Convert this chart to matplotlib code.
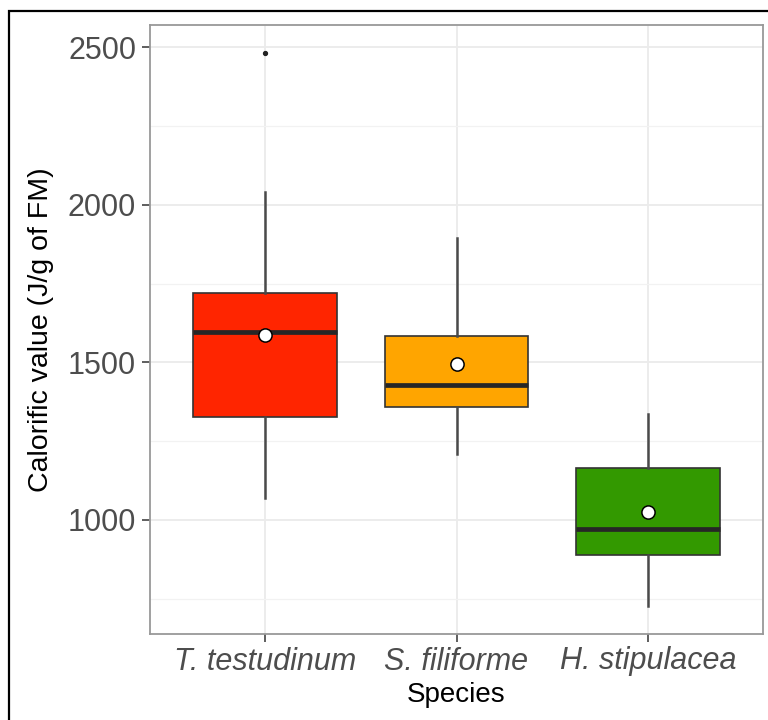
import matplotlib
matplotlib.use("Agg")
import matplotlib.pyplot as plt
from matplotlib.patches import Rectangle

# valores
especies = ["T. testudinum", "S. filiforme", "H. stipulacea"]
q1 = [1328, 1357, 889]
mediana = [1595, 1427, 971]
q3 = [1720, 1583, 1165]
whis_min = [1070, 1208, 727]
whis_max = [2041, 1895, 1337]
media = [1586, 1494, 1025]
outliers = [[2481], [], []]
cores = ["#FF2500", "#FFA500", "#339900"]

plt.rcParams["font.family"] = ["Liberation Sans", "DejaVu Sans"]

stats = []
for i, nome in enumerate(especies):
    stats.append({
        "label": nome,
        "q1": q1[i],
        "med": mediana[i],
        "q3": q3[i],
        "whislo": whis_min[i],
        "whishi": whis_max[i],
        "fliers": outliers[i],
    })

fig = plt.figure(figsize=(7.68, 7.2), dpi=100)
ax = fig.add_axes([150 / 768, 1 - 634 / 720, 613 / 768, 609 / 720])

pos = [1, 2, 3]
bp = ax.bxp(stats, positions=pos, widths=0.75, patch_artist=True, showcaps=False,
            boxprops=dict(edgecolor="#333333", linewidth=1.2),
            medianprops=dict(color="#262626", linewidth=3.4, solid_capstyle="butt"),
            whiskerprops=dict(color="#4a4a4a", linewidth=1.8),
            flierprops=dict(marker="o", markerfacecolor="#222222", markeredgecolor="#222222",
                            markersize=2.8), zorder=3)
for caixa, cor in zip(bp["boxes"], cores):
    caixa.set_facecolor(cor)

ax.plot(pos, media, linestyle="none", marker="o", markersize=9.5,
        markerfacecolor="white", markeredgecolor="black", markeredgewidth=1.1, zorder=5)

ax.set_xlim(0.4, 3.6)
ax.set_ylim(638, 2571)
ax.set_yticks([1000, 1500, 2000, 2500])
ax.set_yticks([750, 1250, 1750, 2250], minor=True)
ax.set_xticks(pos)
ax.set_xticklabels(especies, style="italic", fontsize=22, color="#4D4D4D")
ax.tick_params(axis="y", labelsize=22, labelcolor="#4D4D4D", length=6, width=1.1,
               color="#333333", pad=4)
ax.tick_params(axis="x", length=6, width=1.1, color="#333333", pad=3)
ax.tick_params(axis="y", which="minor", length=0)

ax.grid(True, which="major", color="#EBEBEB", linewidth=1.3, zorder=0)
ax.grid(True, which="minor", axis="y", color="#F2F2F2", linewidth=0.9, zorder=0)
ax.set_axisbelow(True)
for s in ax.spines.values():
    s.set_color("#999999")
    s.set_linewidth(1.3)

ax.set_xlabel("Species", fontsize=20, color="black", labelpad=4)
ax.set_ylabel("Calorific value (J/g of FM)", fontsize=20.5, color="black", labelpad=10)

# moldura preta externa
fig.patches.append(Rectangle((9 / 768, -0.05), 1.0, 1 - 11 / 720 + 0.05,
                             transform=fig.transFigure, fill=False,
                             edgecolor="black", linewidth=1.6))

fig.savefig("out.png", dpi=100)
